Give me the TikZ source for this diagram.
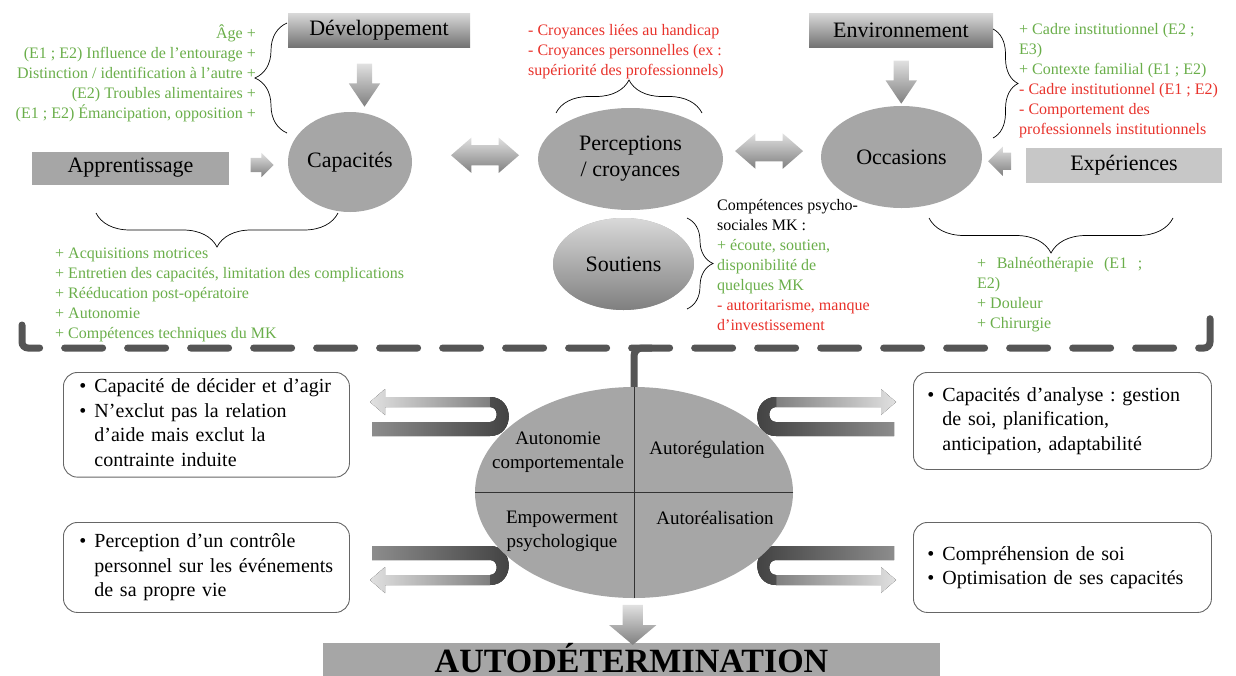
\documentclass[tikz,border=0pt]{standalone}
\usepackage{fontspec}
\setmainfont{Liberation Serif}
\frenchspacing
\usetikzlibrary{positioning,calc,shapes.geometric,shapes.arrows,decorations.pathreplacing}

\definecolor{vert}{RGB}{106,174,74}
\definecolor{rouge}{RGB}{232,50,43}
\definecolor{gris}{RGB}{166,166,166}
\definecolor{trait}{RGB}{85,85,85}

\tikzset{
  titlebox/.style={minimum height=34pt, inner sep=0pt, font=\fontsize{22}{26}\selectfont, top color=black!15, bottom color=black!55},
  flatbox/.style={minimum height=33pt, inner sep=0pt, font=\fontsize{22}{26}\selectfont},
  bulle/.style={ellipse, fill=gris, inner sep=0pt, align=center, font=\fontsize{22}{26}\selectfont},
  note/.style={inner sep=0pt, font=\fontsize{16}{20}\selectfont},
  accolade/.style={decorate, decoration={brace, amplitude=#1}, line width=0.7pt},
  arrowshade/.style={top color=black!12, bottom color=black!50, inner xsep=0pt},
  cadre/.style={draw=black!60, line width=0.9pt, rounded corners=14pt, anchor=north west, align=left, font=\fontsize{20}{24.5}\selectfont},
  quart/.style={inner sep=0pt, align=center, font=\fontsize{19}{24}\selectfont},
  sepline/.style={trait, line width=7pt, line cap=round, rounded corners=6pt, dash pattern=on 38pt off 25pt},
}

% ruban autour de l'ellipse centrale
\newcommand{\ruban}[4]{%
  \fill[left color=#1, right color=#2] (-263,-89) -- (-248,-102) -- (-248,-94) -- (-143,-94) -- (-143,-84) -- (-248,-84) -- (-248,-76) -- cycle;
  \fill[left color=#3, right color=#4] (-261,-69) -- (-143,-69) .. controls (-134,-69) and (-134,-84) .. (-143,-84) -- (-143,-94) .. controls (-118,-94) and (-118,-55) .. (-143,-55) -- (-261,-55) -- cycle;}

\begin{document}
\begin{tikzpicture}[x=1pt,y=-1pt]
		\useasboundingbox (0,0) rectangle (1236,675);
		%
		\node[titlebox, minimum width=182pt] (dev) at (379,30) {Développement};
		\node[titlebox, minimum width=184pt] (env) at (901,30) {Environnement};
		\node[flatbox, fill=gris, minimum width=197pt] (appr) at (130.5,168) {Apprentissage};
		\node[flatbox, fill=black!22, minimum width=196pt, minimum height=35pt] (exp) at (1124,165.5) {Expériences};
		\node[bulle, minimum width=124pt, minimum height=100pt] (cap) at (350,162) {Capacités};
		\node[bulle, minimum width=185pt, minimum height=102pt] (perc) at (630.5,159) {Perceptions\\/ croyances};
		\node[bulle, minimum width=161pt, minimum height=102pt] (occ) at (901.5,157) {Occasions};
		\node[bulle, minimum width=141pt, minimum height=92pt, top color=black!15, bottom color=black!50] (sout) at (623.5,264) {Soutiens};
		%
		\node[single arrow, arrowshade, rotate=-90, minimum height=43pt, inner ysep=7.5pt, single arrow head extend=8pt, single arrow tip angle=68] (f1) at ($(dev.south)!0.5!(cap.north)$) {};
		\node[single arrow, arrowshade, rotate=-90, minimum height=43pt, inner ysep=7.5pt, single arrow head extend=8pt, single arrow tip angle=68] (f2) at ($(env.south)!0.5!(occ.north)$) {};
		\node[single arrow, arrowshade, minimum height=23pt, inner ysep=7pt, single arrow head extend=5pt] (f3) at ($(appr.east)!0.5!(cap.west)$) {};
		\node[single arrow, arrowshade, rotate=180, minimum height=23pt, inner ysep=8.5pt, single arrow head extend=6pt] (f4) at ($(exp.west)!0.5!(occ.east)$) {};
		\node[double arrow, arrowshade, minimum height=68pt, inner ysep=10pt, double arrow head extend=7.5pt, double arrow tip angle=82] (f5) at ([yshift=5]$(cap.east)!0.58!(perc.west)$) {};
		\node[double arrow, arrowshade, minimum height=68pt, inner ysep=10pt, double arrow head extend=7.5pt, double arrow tip angle=82] (f6) at ([yshift=7]$(perc.east)!0.47!(occ.west)$) {};
		%
		\node[note, vert, align=right, anchor=north east] (devnote) at (256,24) {\strut Âge +\\(E1 ; E2) Influence de l'entourage +\\Distinction / identification à l'autre +\\(E2) Troubles alimentaires +\\(E1 ; E2) Émancipation, opposition +};
		\node[note, rouge, align=left, anchor=north west] (percnote) at (528,21) {\strut - Croyances liées au handicap\\- Croyances personnelles (ex :\\supériorité des professionnels)};
		\node[note, vert, align=left, anchor=north west] (envnote) at (1019,20) {\strut + Cadre institutionnel (E2 ;\\E3)\\+ Contexte familial (E1 ; E2)\\\textcolor{rouge}{- Cadre institutionnel (E1 ; E2)}\\\textcolor{rouge}{- Comportement des}\\\textcolor{rouge}{professionnels institutionnels}};
		\node[note, vert, align=left, anchor=north west] (capnote) at (55,244) {\strut + Acquisitions motrices\\+ Entretien des capacités, limitation des complications\\+ Rééducation post-opératoire\\+ Autonomie\\+ Compétences techniques du MK};
		\node[note, align=left, anchor=north west] (soutnote) at (717,196) {\strut Compétences psycho-\\sociales MK :\\\textcolor{vert}{+ écoute, soutien,}\\\textcolor{vert}{disponibilité de}\\\textcolor{vert}{quelques MK}\\\textcolor{rouge}{- autoritarisme, manque}\\\textcolor{rouge}{d'investissement}};
		\node[note, vert, align=left, anchor=north west] (occnote) at (977,254) {\strut\makebox[165pt][s]{+ Balnéothérapie (E1 ;}\\E2)\\+ Douleur\\+ Chirurgie};
		%
		\draw[accolade=32] (287,133) -- (287,23);
		\draw[accolade=33] (556,113) -- (702,113);
		\draw[accolade=25] (993,29) -- (993,138);
		\draw[accolade=34] (338,213) -- (96,213);
		\draw[accolade=26] (687,218) -- (687,309);
		\draw[accolade=35] (1173,218) -- (929,218);
		%
		\draw[sepline] (22,325) -- (22,348) -- (1210,348) -- (1210,313);
		%
		\begin{scope}[shift={(633,491)}]
			\ruban{black!12}{black!50}{black!45}{black!75}
		\end{scope}
		\begin{scope}[shift={(633,491)}, yscale=-1]
			\ruban{black!12}{black!50}{black!45}{black!75}
		\end{scope}
		\begin{scope}[shift={(633,491)}, xscale=-1]
			\ruban{black!50}{black!12}{black!75}{black!45}
		\end{scope}
		\begin{scope}[shift={(633,491)}, xscale=-1, yscale=-1]
			\ruban{black!50}{black!12}{black!75}{black!45}
		\end{scope}
		%
		\node[ellipse, fill=gris, minimum width=318pt, minimum height=211pt, inner sep=0pt] (auto) at (634,492.5) {};
		\draw[black!80, line width=0.8pt] (auto.north) -- (auto.south);
		\draw[black!80, line width=0.8pt] (auto.west) -- (auto.east);
		\draw[trait, line width=7pt, rounded corners=8pt] (auto.north) |- (652,348);
		\node[quart] (q1) at (558,452) {Autonomie\\comportementale};
		\node[quart] (q2) at (707,450) {Autorégulation};
		\node[quart] (q3) at (562,531) {Empowerment\\psychologique};
		\node[quart] (q4) at (715,518) {Autoréalisation};
		%
		\node[cadre, minimum height=97pt, text width=254pt, inner xsep=16pt] (b1) at (63,372) {\begin{tabular}{@{}l@{\hspace{8pt}}l@{}}•&Capacité de décider et d'agir\\•&N'exclut pas la relation\\&d'aide mais exclut la\\&contrainte induite\end{tabular}};
		\node[cadre, minimum height=90pt, text width=254pt, inner xsep=16pt] (b2) at (63,522) {\begin{tabular}{@{}l@{\hspace{8pt}}l@{}}•&Perception d'un contrôle\\&personnel sur les événements\\&de sa propre vie\end{tabular}};
		\node[cadre, minimum height=97pt, text width=270pt, inner xsep=14pt] (b3) at (913,372) {\begin{tabular}{@{}l@{\hspace{8pt}}l@{}}•&Capacités d'analyse : gestion\\&de soi, planification,\\&anticipation, adaptabilité\end{tabular}};
		\node[cadre, minimum height=90pt, text width=270pt, inner xsep=14pt] (b4) at (913,522) {\begin{tabular}{@{}l@{\hspace{8pt}}l@{}}•&Compréhension de soi\\•&Optimisation de ses capacités\end{tabular}};
		%
		\node[fill=gris, minimum width=617pt, minimum height=45pt, inner sep=0pt, anchor=north] (titre) at (631.5,643) {};
		\node[anchor=base, inner sep=0pt, font=\fontsize{34}{40}\selectfont\bfseries] (titretxt) at (631.5,672) {AUTODÉTERMINATION};
		\node[single arrow, arrowshade, rotate=-90, minimum height=40pt, inner ysep=10pt, single arrow head extend=13.5pt, single arrow tip angle=100] (f7) at ($(auto.south)!0.5!(titre.north)$) {};
\end{tikzpicture}
\end{document}
